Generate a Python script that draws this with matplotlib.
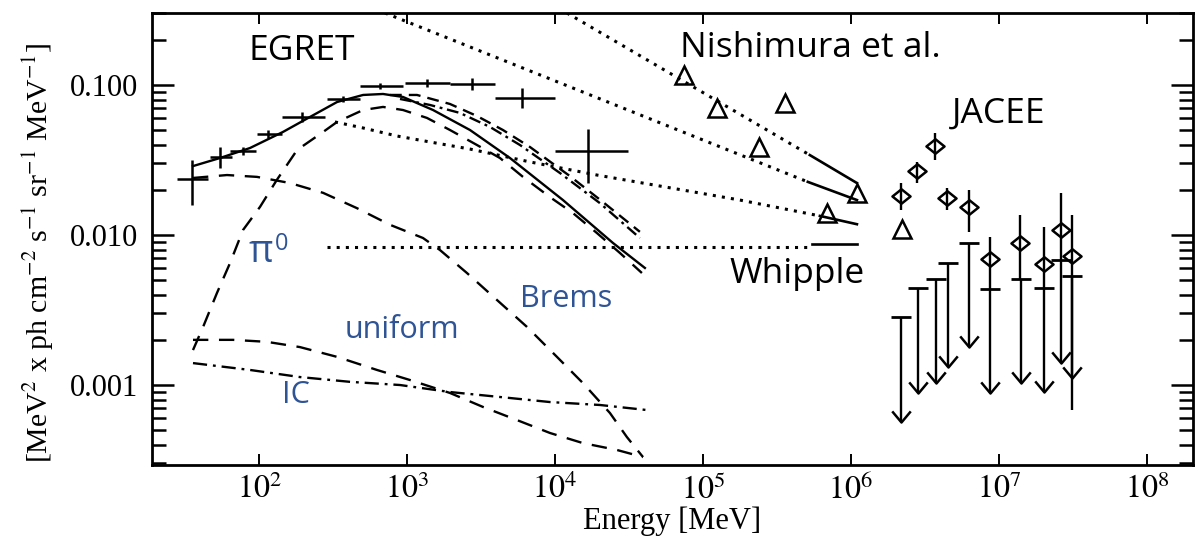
import numpy as np
import matplotlib.pyplot as plt
from matplotlib.path import Path
from matplotlib.ticker import NullLocator, NullFormatter, LogLocator

plt.rcParams['font.family'] = ['Liberation Serif', 'DejaVu Serif']
plt.rcParams['mathtext.fontset'] = 'stix'

# energies in MeV, fluxes in MeV^2 ph cm^-2 s^-1 sr^-1 MeV^-1

# EGRET points with energy bins
egret_e = [35.2, 54.5, 78, 115, 195, 370, 658, 1365, 2748, 5984, 16700]
egret_f = [0.0236, 0.0331, 0.0363, 0.0471, 0.0612, 0.0807, 0.0985, 0.103, 0.1016, 0.0819, 0.0363]
egret_elo = [27.9, 46.6, 63.7, 97, 143, 288, 481, 969, 1950, 3936, 10000]
egret_ehi = [45.2, 65.8, 95.4, 143, 279, 481, 940, 1950, 3936, 10000, 31100]
egret_flo = [0.0158, 0.0280, 0.0341, 0.0443, 0.0566, 0.0770, 0.094, 0.097, 0.093, 0.0702, 0.0222]
egret_fhi = [0.0316, 0.0386, 0.0386, 0.0501, 0.0661, 0.0845, 0.103, 0.109, 0.111, 0.0955, 0.0509]

# model curves
total_e = [35.8, 54.5, 86.9, 145, 221, 337, 505, 689, 940, 1500, 2666, 4966, 11330, 24660, 40550]
total_f = [0.0288, 0.0326, 0.0380, 0.0486, 0.0612, 0.0770, 0.0858, 0.0871, 0.0832, 0.0681,
           0.0501, 0.0326, 0.0171, 0.00885, 0.00603]

pi0_e = [35.8, 41.9, 52.0, 63.7, 78.0, 101.6, 132, 181, 271, 337, 505, 689, 940, 1365, 1953,
         2972, 4250, 6081, 9250, 13240, 19230, 27490, 38700]
pi0_f = [0.00171, 0.00244, 0.00411, 0.0065, 0.0108, 0.0154, 0.0233, 0.0369, 0.0486, 0.0567,
         0.0681, 0.0714, 0.0681, 0.0603, 0.0501, 0.0398, 0.0326, 0.0244, 0.0179, 0.0140,
         0.0103, 0.00759, 0.00558]

brems_e = [35.8, 60.8, 96.9, 162, 271, 459, 767, 1283, 1671, 2543, 4055, 6471, 10320, 15460,
           23530, 30640, 39360]
brems_f = [0.0240, 0.0251, 0.0244, 0.0222, 0.0191, 0.0151, 0.0117, 0.00955, 0.00794, 0.00558,
           0.00369, 0.00244, 0.00154, 0.00103, 0.000651, 0.000450, 0.000331]

uniform_e = [35.8, 66.7, 113, 189, 337, 627, 1047, 1953, 3265, 5537, 9250, 15460, 26240, 39360]
uniform_f = [0.0020, 0.0020, 0.00194, 0.00179, 0.00154, 0.00126, 0.00108, 0.000885, 0.000714,
             0.000584, 0.000479, 0.000410, 0.000369, 0.000331]

ic_e = [35.8, 86.9, 189, 412, 897, 1953, 4250, 9250, 20140, 41860]
ic_f = [0.00140, 0.00126, 0.00113, 0.00105, 0.00100, 0.000898, 0.000832, 0.000770, 0.000736, 0.000681]

alt1_e = [767, 1169, 1953, 2972, 4453, 6780, 12620, 21090, 37500]
alt1_f = [0.0858, 0.0858, 0.0747, 0.0621, 0.0501, 0.0386, 0.0247, 0.0166, 0.0105]
alt2_e = [897, 1430, 2281, 3640, 5803, 10810, 20140, 37500]
alt2_f = [0.0807, 0.0736, 0.0651, 0.0525, 0.0398, 0.0259, 0.0163, 0.00955]

# extrapolations (dotted) and their solid ends
extA_e = [326, 505, 855, 1430, 2666, 6780, 19230, 51200, 177800, 617600]
extA_f = [0.0567, 0.0517, 0.0457, 0.0417, 0.0374, 0.0307, 0.0251, 0.0212, 0.0171, 0.0134]
endA_e = [617600, 1.099e6]
endA_f = [0.0134, 0.0118]

ext1_e = [12050, 528000]
ext1_f = [0.302, 0.0341]
end1_e = [528000, 1.099e6]
end1_f = [0.0341, 0.0222]

ext2_e = [710, 511700]
ext2_f = [0.302, 0.0226]
end2_e = [511700, 1.099e6]
end2_f = [0.0226, 0.0171]

whip_e = [288, 545000]
whip_f = [0.00832, 0.00832]
whip_end_e = [545000, 1.099e6]
whip_end_f = [0.00871, 0.00871]

# Nishimura et al. (triangles)
nish_e = [74500, 124000, 358000, 239000, 1.1e6, 689000, 2.21e6]
nish_f = [0.1166, 0.0703, 0.0759, 0.0386, 0.0191, 0.0140, 0.0110]

# JACEE (diamonds)
jacee_e = [2.18e6, 2.79e6, 3.7e6, 4.46e6, 6.27e6, 8.69e6, 1.39e7, 2.01e7, 2.62e7, 3.11e7]
jacee_f = [0.0182, 0.0267, 0.0392, 0.0176, 0.0154, 0.00692, 0.00885, 0.00641, 0.0108, 0.00724]
jacee_fhi = [0.0222, 0.0307, 0.0479, 0.0206, 0.0200, 0.0097, 0.0136, 0.0113, 0.0191, 0.0136]
jacee_flo = [0.0147, 0.0222, 0.0316, 0.0147, 0.0105, 0.00437, 0.00509, 0.00443, 0.00681, 0.00068]

# upper limits
ul_e = [2.18e6, 2.84e6, 3.75e6, 4.5e6, 6.27e6, 8.69e6, 1.41e7, 2.03e7, 2.62e7, 3.11e7]
ul_top = [0.00284, 0.00443, 0.00509, 0.0065, 0.00885, 0.00437, 0.00509, 0.00443, 0.00681, 0.00533]
ul_tip = [0.000567, 0.000885, 0.00103, 0.00132, 0.00179, 0.000885, 0.00103, 0.000898, 0.0014, 0.00111]

xtick_vals = [1e2, 1e3, 1e4, 1e5, 1e6, 1e7, 1e8]
xtick_labels = [r'$10^{%d}$' % k for k in range(2, 9)]
ytick_vals = [0.001, 0.01, 0.1]
ytick_labels = ['0.001', '0.010', '0.100']

blue = '#2F5496'
lw = 1.7

fig = plt.figure(figsize=(12.04, 5.45), dpi=100)
ax = fig.add_axes([0.1262, 0.1468, 0.8646, 0.8294])
ax.set_xscale('log')
ax.set_yscale('log')

egret_e = np.array(egret_e)
egret_f = np.array(egret_f)
xerr = [egret_e - np.array(egret_elo), np.array(egret_ehi) - egret_e]
yerr = [egret_f - np.array(egret_flo), np.array(egret_fhi) - egret_f]
ax.errorbar(egret_e, egret_f, xerr=xerr, yerr=yerr, fmt='none', ecolor='k', elinewidth=1.8, capsize=0)

ax.plot(total_e, total_f, color='k', lw=lw)
long_dash = (6.5, 4.5)
ax.plot(pi0_e, pi0_f, color='k', lw=lw, dashes=long_dash)
ax.plot(brems_e, brems_f, color='k', lw=lw, dashes=long_dash)
ax.plot(uniform_e, uniform_f, color='k', lw=lw, dashes=long_dash)
ax.plot(ic_e, ic_f, color='k', lw=lw, dashes=(6, 2.5, 1.2, 2.5))
ax.plot(alt1_e, alt1_f, color='k', lw=lw, dashes=(5, 3))
ax.plot(alt2_e, alt2_f, color='k', lw=lw, dashes=(5, 2, 1.2, 2))

dots = (1.0, 2.0)
for xs, ys in [(extA_e, extA_f), (ext1_e, ext1_f), (ext2_e, ext2_f), (whip_e, whip_f)]:
    ax.plot(xs, ys, color='k', lw=2.2, dashes=dots)
for xs, ys in [(endA_e, endA_f), (end1_e, end1_f), (end2_e, end2_f), (whip_end_e, whip_end_f)]:
    ax.plot(xs, ys, color='k', lw=1.9)

ax.plot(nish_e, nish_f, ls='none', marker='^', ms=13, mfc='none', mec='k', mew=1.8)

jacee_e = np.array(jacee_e)
jacee_f = np.array(jacee_f)
ax.errorbar(jacee_e, jacee_f,
            yerr=[jacee_f - np.array(jacee_flo), np.array(jacee_fhi) - jacee_f],
            fmt='none', ecolor='k', elinewidth=1.7, capsize=0)
diamond = Path([(-1, 0), (0, 0.8), (1, 0), (0, -0.8), (-1, 0)],
               [Path.MOVETO, Path.LINETO, Path.LINETO, Path.LINETO, Path.CLOSEPOLY])
ax.plot(jacee_e, jacee_f, ls='none', marker=diamond, ms=13, mfc='none', mec='k', mew=1.8)

arrow_head = Path([(-1, 1.2), (0, 0), (1, 1.2)], [Path.MOVETO, Path.LINETO, Path.LINETO])
ax.vlines(ul_e, ul_tip, ul_top, color='k', lw=1.7)
ax.plot(ul_e, ul_top, ls='none', marker='_', ms=14, mew=2.0, color='k')
ax.plot(ul_e, ul_tip, ls='none', marker=arrow_head, ms=16, mfc='none', mec='k', mew=1.8)

# labels
sans = ['Open Sans', 'DejaVu Sans']
ax.text(84.3, 0.147, 'EGRET', family=sans, fontsize=25.5, color='k')
ax.text(70000, 0.1537, 'Nishimura et al.', family=sans, fontsize=25.5, color='k')
ax.text(4.81e6, 0.0558, 'JACEE', family=sans, fontsize=25.5, color='k')
ax.text(152000, 0.00479, 'Whipple', family=sans, fontsize=25.5, color='k')
ax.text(84.3, 0.0066, 'π', family=sans, fontsize=27, color=blue)
ax.annotate('0', (84.3, 0.0066), xytext=(19, 9), textcoords='offset points',
            family=sans, fontsize=17, color=blue)
ax.text(5800, 0.00331, 'Brems', family=sans, fontsize=22, color=blue)
ax.text(381, 0.00206, 'uniform', family=sans, fontsize=22, color=blue)
ax.text(143, 0.000759, 'IC', family=sans, fontsize=22, color=blue)

ax.set_xlim(18.9, 2.05e8)
ax.set_ylim(2.93e-4, 0.302)

ax.set_xticks(xtick_vals, labels=xtick_labels)
ax.xaxis.set_minor_locator(NullLocator())
ax.set_yticks(ytick_vals, labels=ytick_labels)
ax.yaxis.set_minor_locator(LogLocator(base=10, subs=np.arange(2, 10)))
ax.yaxis.set_minor_formatter(NullFormatter())

ax.tick_params(which='both', direction='in', top=True, right=True)
ax.tick_params(axis='x', which='major', length=8, width=1.4, labelsize=23, pad=7)
ax.tick_params(axis='y', which='major', length=16, width=1.8, labelsize=22, pad=10)
ax.tick_params(axis='y', which='minor', length=10, width=1.8)
for s in ax.spines.values():
    s.set_linewidth(2.0)

ax.set_xlabel('Energy [MeV]', fontsize=22, labelpad=0)
ax.set_ylabel(r'[MeV$^2$ x ph cm$^{-2}$ s$^{-1}$ sr$^{-1}$ MeV$^{-1}$]', fontsize=21.5)
ax.yaxis.set_label_coords(-0.092, 0.47)

fig.savefig('out.png', dpi=100)
